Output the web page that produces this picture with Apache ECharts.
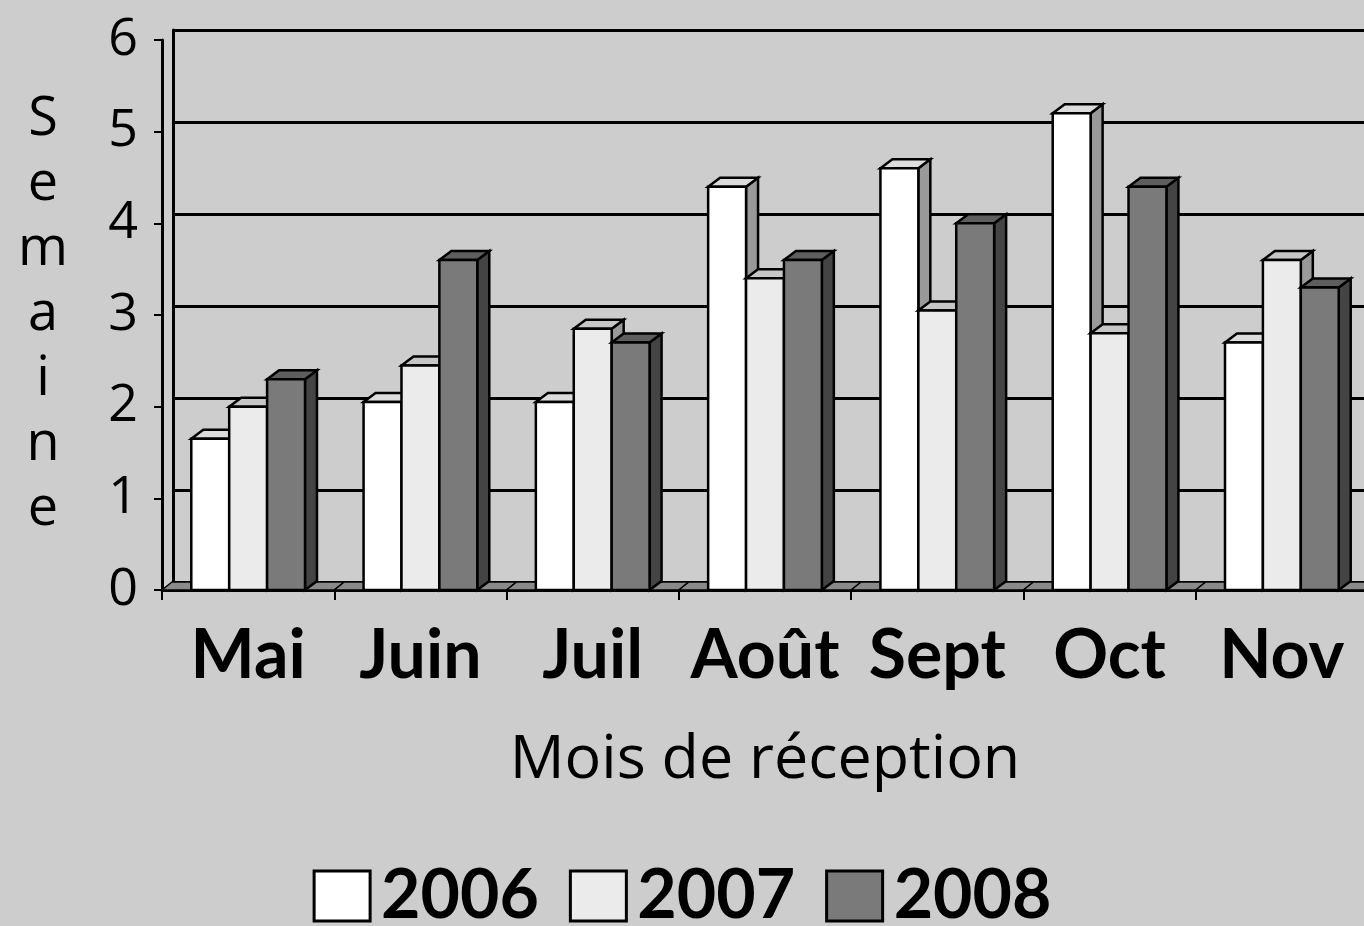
<!DOCTYPE html>
<html>
<head>
<meta charset="utf-8">
<script src="https://cdn.jsdelivr.net/npm/echarts@6/dist/echarts.min.js"></script>
<style>
html,body{margin:0;padding:0;background:#cdcdcd;}
#chart{width:1364px;height:926px;}
</style>
</head>
<body>
<div id="chart"></div>
<script>
const categories = ['Mai', 'Juin', 'Juil', 'Août', 'Sept', 'Oct', 'Nov'];
const years = ['2006', '2007', '2008'];
const v2006 = [1.65, 2.05, 2.05, 4.4, 4.6, 5.2, 2.7];
const v2007 = [2.0, 2.45, 2.85, 3.4, 3.05, 2.8, 3.6];
const v2008 = [2.3, 3.6, 2.7, 3.6, 4.0, 4.4, 3.3];
const yMin = 0, yMax = 6, yStep = 1;

const DX = 12, DY = 9;
const faces = [
  { front: '#ffffff', top: '#dcdcdc', side: '#999999' },
  { front: '#ebebeb', top: '#c6c6c6', side: '#999999' },
  { front: '#7a7a7a', top: '#5e5e5e', side: '#444444' }
];

function barRender(k) {
  const f = faces[k];
  return function (params, api) {
    const idx = api.value(0), val = api.value(1);
    const p = api.coord([idx, val]);
    const base = api.coord([idx, 0]);
    const band = api.size([1, 0])[0];
    const w = band * 0.22;
    const x0 = p[0] + (k - 1.5) * w, x1 = x0 + w;
    const yT = p[1], yB = base[1];
    const st = { stroke: '#000', lineWidth: 2.5, lineJoin: 'miter' };
    return {
      type: 'group',
      children: [
        { type: 'polygon', shape: { points: [[x1, yT], [x1 + DX, yT - DY], [x1 + DX, yB - DY], [x1, yB]] },
          style: Object.assign({ fill: f.side }, st) },
        { type: 'polygon', shape: { points: [[x0, yT], [x1, yT], [x1 + DX, yT - DY], [x0 + DX, yT - DY]] },
          style: Object.assign({ fill: f.top }, st) },
        { type: 'rect', shape: { x: x0, y: yT, width: w, height: yB - yT },
          style: Object.assign({ fill: f.front }, st) }
      ]
    };
  };
}

function floorRender(params, api) {
  const idx = api.value(0);
  const c = api.coord([idx, 0]);
  const band = api.size([1, 0])[0];
  const xa = c[0] - band / 2, xb = c[0] + band / 2, y = c[1];
  return {
    type: 'polygon',
    shape: { points: [[xa, y], [xb, y], [xb + 10, y - 8], [xa + 10, y - 8]] },
    style: { fill: '#8a8a8a', stroke: '#000', lineWidth: 1.5 }
  };
}

const seriesVals = [v2006, v2007, v2008];
const chart = echarts.init(document.getElementById('chart'));
const option = {
  backgroundColor: '#cdcdcd',
  animation: false,
  legend: {
    data: years,
    top: 857,
    left: 'center',
    icon: 'rect',
    itemWidth: 56,
    itemHeight: 50,
    itemGap: 30,
    itemStyle: { borderColor: '#000', borderWidth: 3 },
    textStyle: { fontFamily: 'Lato', fontWeight: 'bold', fontSize: 68, color: '#000', padding: [0, 0, 0, 6] }
  },
  grid: [
    { left: 162, right: -4, top: 40, bottom: 336, outerBoundsMode: 'none', containLabel: false },
    { left: 173, right: -14, top: 30, bottom: 344, outerBoundsMode: 'none', containLabel: false }
  ],
  xAxis: [
    {
      type: 'category', gridIndex: 0, data: categories, boundaryGap: true,
      axisLine: { show: true, lineStyle: { color: '#000', width: 3 } },
      axisTick: { show: true, length: 10, lineStyle: { color: '#000', width: 2 } },
      axisLabel: { interval: 0, fontFamily: 'Lato', fontWeight: 'bold', fontSize: 68, color: '#000', margin: 32 },
      name: 'Mois de réception', nameLocation: 'middle', nameGap: 140,
      nameTextStyle: { fontFamily: 'Open Sans', fontSize: 61, color: '#000' }
    },
    { type: 'category', gridIndex: 1, data: categories, show: false }
  ],
  yAxis: [
    {
      type: 'value', gridIndex: 0, min: yMin, max: yMax, interval: yStep,
      axisLine: { show: true, lineStyle: { color: '#000', width: 3 } },
      axisTick: { show: true, length: 8, lineStyle: { color: '#000', width: 2 } },
      axisLabel: { fontFamily: 'Open Sans', fontSize: 52, color: '#000', margin: 24 },
      splitLine: { show: false },
      name: 'S\ne\nm\na\ni\nn\ne', nameLocation: 'middle', nameRotate: 0, nameGap: 119,
      nameTextStyle: { fontFamily: 'Open Sans', fontSize: 54, color: '#000', lineHeight: 65, align: 'center' }
    },
    {
      type: 'value', gridIndex: 1, min: yMin, max: yMax, interval: yStep,
      axisLine: { show: true, lineStyle: { color: '#000', width: 3 } },
      axisTick: { show: false }, axisLabel: { show: false },
      splitLine: { show: true, lineStyle: { color: '#000', width: 3 } }
    }
  ],
  series: [
    {
      type: 'custom', name: 'floor', xAxisIndex: 0, yAxisIndex: 0, z: 1,
      renderItem: floorRender, data: categories.map((c, i) => [i]), silent: true
    }
  ].concat(years.map((y, k) => ({
    type: 'custom', name: y, xAxisIndex: 0, yAxisIndex: 0, z: 3 + k,
    renderItem: barRender(k),
    itemStyle: { color: faces[k].front, borderColor: '#000', borderWidth: 3 },
    encode: { x: 0, y: 1 },
    data: seriesVals[k].map((v, i) => [i, v])
  })))
};
chart.setOption(option);
</script>
</body>
</html>
